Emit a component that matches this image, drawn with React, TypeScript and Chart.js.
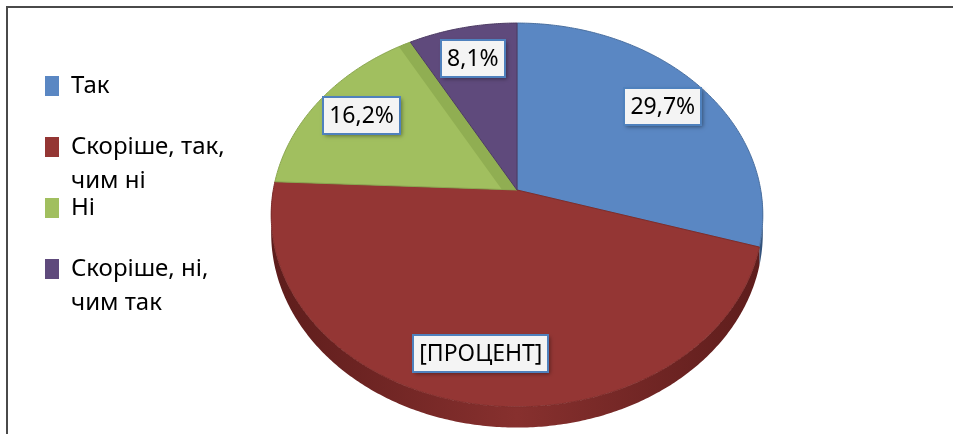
import React, { useEffect, useRef } from 'react';
import { Chart, registerables } from 'chart.js';

Chart.register(...registerables);

// ---- data ----
const categories = ['Так', 'Скоріше, так, чим ні', 'Ні', 'Скоріше, ні, чим так'];
const legendLines = [['Так'], ['Скоріше, так,', 'чим ні'], ['Ні'], ['Скоріше, ні,', 'чим так']];
const shares = [29.7, 46.0, 16.2, 8.1];
const valueLabels = ['29,7%', '[ПРОЦЕНТ]', '16,2%', '8,1%'];

// ---- styles ----
const topColors = ['#5a87c3', '#943634', '#a1bf5f', '#5f4a7c'];
const edgeColors = ['#4a6f9f', '#7e2c2a', '#8aa650', '#4c3b63'];
const wallColors = ['#4a72a6', '#87302e', '#86a24c', '#4f3e66'];
const wallEdge = ['#34537c', '#5e1d1c', '#5f7334', '#362a44'];
const bevelColors = ['rgba(0,0,0,0)', 'rgba(0,0,0,0)', '#90ae52', 'rgba(0,0,0,0)'];

const FONT = "'Noto Sans', 'DejaVu Sans', sans-serif";
const LEGEND_SIZE = 24;
const LEGEND_LINE = 34;
const LABEL_SIZE = 23;
const PERSPECTIVE = 0.13;
const RX_RATIO = 1.593;
const RY_RATIO = 1.233;
const DEPTH_RATIO = 0.118;
const LABEL_POS = 0.79;
const BEVEL = 12;

function project(cx: number, cy: number, rx: number, ry: number, a: number, f: number) {
  const v = f * Math.sin(a);
  const s = 1 / (1 - PERSPECTIVE * v);
  return { x: cx + rx * f * Math.cos(a) * s, y: cy + ry * v * s, s };
}

const framePlugin = {
  id: 'frame',
  beforeDraw(chart: any) {
    const ctx = chart.ctx;
    ctx.save();
    ctx.fillStyle = '#4a4a4a';
    ctx.fillRect(6, 6, 2, chart.height - 6);
    ctx.fillRect(6, 6, chart.width - 6, 2);
    ctx.restore();
  },
};

const pie3dPlugin = {
  id: 'pie3d',
  beforeDatasetsDraw(chart: any) {
    const meta = chart.getDatasetMeta(0);
    const arcs = meta.data;
    if (!arcs.length) return false;
    const ctx = chart.ctx;
    const cx = arcs[0].x;
    const cy = arcs[0].y;
    const R = arcs[0].outerRadius;
    const rx = R * RX_RATIO;
    const ry = R * RY_RATIO;
    const depth = R * DEPTH_RATIO;
    const P = (a: number, f: number) => project(cx, cy, rx, ry, a, f);
    ctx.save();

    // side walls (front half only)
    arcs.forEach((arc: any, i: number) => {
      const s = Math.max(arc.startAngle, 0);
      const e = Math.min(arc.endAngle, Math.PI);
      if (e <= s) return;
      const n = Math.max(2, Math.ceil((e - s) / 0.01));
      ctx.beginPath();
      for (let j = 0; j <= n; j++) {
        const p = P(s + ((e - s) * j) / n, 1);
        if (j === 0) ctx.moveTo(p.x, p.y);
        else ctx.lineTo(p.x, p.y);
      }
      for (let j = n; j >= 0; j--) {
        const p = P(s + ((e - s) * j) / n, 1);
        ctx.lineTo(p.x, p.y + depth * p.s);
      }
      ctx.closePath();
      const g = ctx.createLinearGradient(cx - rx, 0, cx + rx, 0);
      g.addColorStop(0, wallEdge[i]);
      g.addColorStop(0.5, wallColors[i]);
      g.addColorStop(1, wallEdge[i]);
      ctx.fillStyle = g;
      ctx.fill();
    });

    // top faces
    arcs.forEach((arc: any, i: number) => {
      const s = arc.startAngle;
      const e = arc.endAngle;
      const n = Math.max(2, Math.ceil((e - s) / 0.01));
      const facePath = () => {
        ctx.beginPath();
        ctx.moveTo(cx, cy);
        for (let j = 0; j <= n; j++) {
          const p = P(s + ((e - s) * j) / n, 1);
          ctx.lineTo(p.x, p.y);
        }
        ctx.closePath();
      };
      facePath();
      ctx.fillStyle = arc.options.backgroundColor;
      ctx.fill();

      // bevel band along the end edge of the slice
      if (bevelColors[i] !== 'rgba(0,0,0,0)') {
        ctx.save();
        facePath();
        ctx.clip();
        const E = P(e, 1);
        const dx = E.x - cx;
        const dy = E.y - cy;
        const len = Math.hypot(dx, dy) || 1;
        let nx = dy / len;
        let ny = -dx / len;
        const inner = P(e - 0.2, 1);
        if ((inner.x - E.x) * nx + (inner.y - E.y) * ny < 0) {
          nx = -nx;
          ny = -ny;
        }
        ctx.beginPath();
        ctx.moveTo(cx - dx * 0.1, cy - dy * 0.1);
        ctx.lineTo(E.x + dx * 0.1, E.y + dy * 0.1);
        ctx.lineTo(E.x + dx * 0.1 + nx * BEVEL, E.y + dy * 0.1 + ny * BEVEL);
        ctx.lineTo(cx - dx * 0.1 + nx * BEVEL, cy - dy * 0.1 + ny * BEVEL);
        ctx.closePath();
        ctx.fillStyle = bevelColors[i];
        ctx.fill();
        ctx.restore();
      }

      facePath();
      ctx.strokeStyle = edgeColors[i];
      ctx.lineWidth = 1;
      ctx.stroke();
    });

    // data labels
    ctx.font = `${LABEL_SIZE}px ${FONT}`;
    ctx.textAlign = 'center';
    ctx.textBaseline = 'middle';
    arcs.forEach((arc: any, i: number) => {
      const mid = (arc.startAngle + arc.endAngle) / 2;
      const p = P(mid, LABEL_POS);
      const tw = ctx.measureText(valueLabels[i]).width;
      const w = Math.round(tw + 12);
      const h = 37;
      const x0 = Math.round(p.x - w / 2);
      const y0 = Math.round(p.y - h / 2);
      ctx.save();
      ctx.shadowColor = 'rgba(0,0,0,0.4)';
      ctx.shadowBlur = 4;
      ctx.shadowOffsetX = 1.5;
      ctx.shadowOffsetY = 1.5;
      ctx.fillStyle = '#f4f4f4';
      ctx.fillRect(x0, y0, w, h);
      ctx.restore();
      ctx.strokeStyle = '#4f81bd';
      ctx.lineWidth = 2;
      ctx.strokeRect(x0, y0, w, h);
      ctx.fillStyle = '#000';
      ctx.fillText(valueLabels[i], p.x, p.y + 1);
    });

    ctx.restore();
    return false;
  },
};

const legendWrapPlugin = {
  id: 'legendWrap',
  afterDraw(chart: any) {
    const lg = chart.legend;
    if (!lg || !lg.legendHitBoxes) return;
    const boxWidth = lg.options.labels.boxWidth;
    const ctx = chart.ctx;
    ctx.save();
    ctx.font = `${LEGEND_SIZE}px ${FONT}`;
    ctx.fillStyle = '#000';
    ctx.textAlign = 'left';
    ctx.textBaseline = 'middle';
    lg.legendHitBoxes.forEach((hb: any, i: number) => {
      const lines = legendLines[i];
      for (let k = 1; k < lines.length; k++) {
        ctx.fillText(lines[k], hb.left + boxWidth + LEGEND_SIZE / 2, hb.top + hb.height / 2 + k * LEGEND_LINE);
      }
    });
    ctx.restore();
  },
};

export default function App() {
  const ref = useRef<HTMLCanvasElement>(null);
  useEffect(() => {
    if (!ref.current) return;
    const chart = new Chart(ref.current, {
      type: 'pie',
      data: {
        labels: categories,
        datasets: [{ data: shares, backgroundColor: topColors, borderWidth: 0 }],
      },
      options: {
        responsive: false,
        animation: false,
        events: [],
        layout: { padding: { left: 8, right: 147, top: 37, bottom: 91 } },
        plugins: {
          tooltip: { enabled: false },
          legend: {
            position: 'left',
            align: 'start',
            maxWidth: 220,
            labels: {
              boxWidth: 14,
              boxHeight: 20,
              padding: 37,
              color: '#000',
              font: { family: FONT, size: LEGEND_SIZE },
              generateLabels: () =>
                legendLines.map((lines, i) => ({
                  text: lines[0],
                  fillStyle: topColors[i],
                  strokeStyle: topColors[i],
                  lineWidth: 0,
                  hidden: false,
                  index: i,
                })),
            },
          },
        },
      } as any,
      plugins: [framePlugin, pie3dPlugin, legendWrapPlugin],
    });
    return () => chart.destroy();
  }, []);
  return (
    <div style={{ position: 'fixed', left: 0, top: 0, width: 953, height: 434, background: '#fff' }}>
      <canvas ref={ref} width={953} height={434} style={{ display: 'block' }} />
    </div>
  );
}
